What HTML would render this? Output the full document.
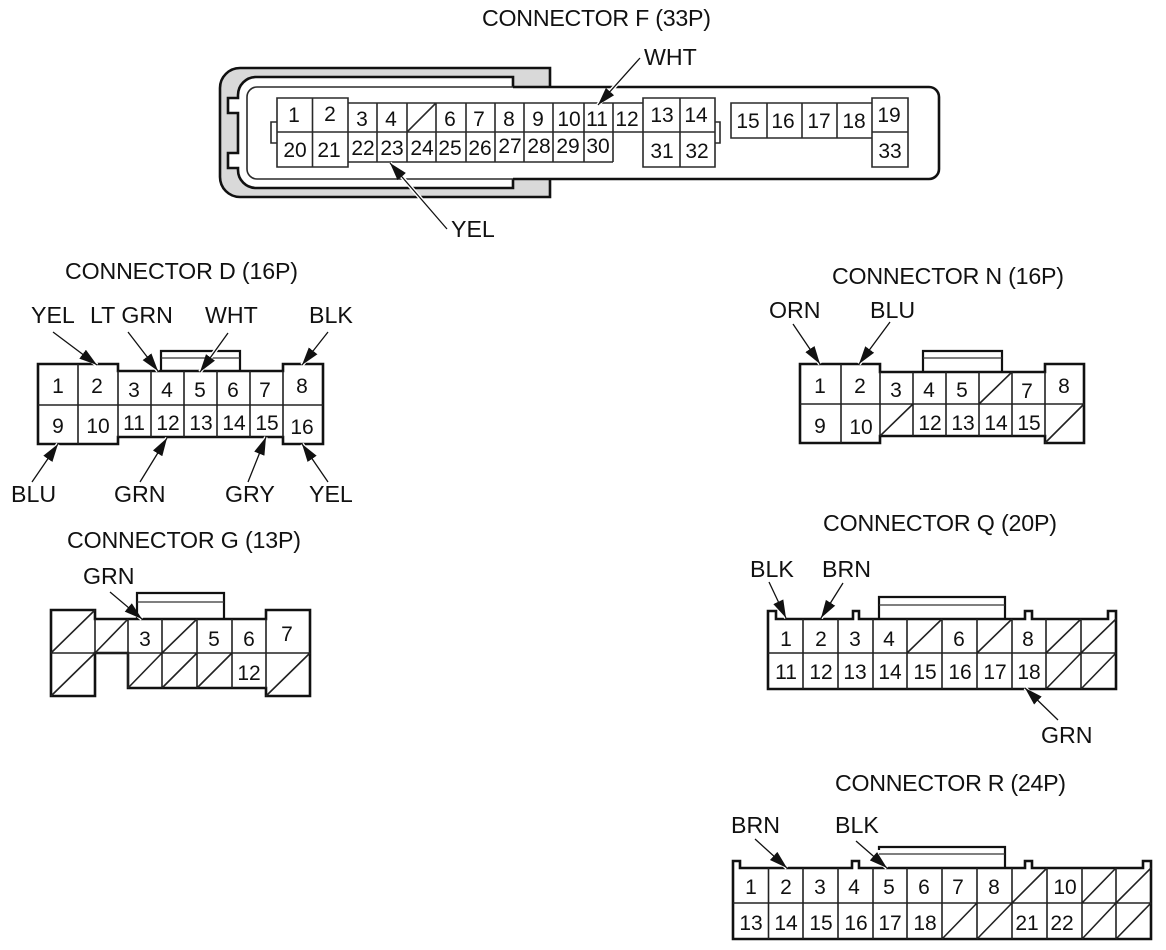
<!DOCTYPE html>
<html><head><meta charset="utf-8"><style>
html,body{margin:0;padding:0;background:#fff}
svg{display:block}
text{font-family:"Liberation Sans",sans-serif;fill:#111}
.l{font-size:23.2px}
.p{font-size:21px;text-anchor:middle}
.o{fill:none;stroke:#111;stroke-width:2.6}
.t{fill:none;stroke:#111;stroke-width:2.2}
.s{fill:none;stroke:#333;stroke-width:1.3}
.i{fill:none;stroke:#222;stroke-width:1.6}
.f{fill:none;stroke:#2a2a2a;stroke-width:1.6}
.h{stroke:#fff;stroke-width:4}
.a{stroke:#111;stroke-width:1.3;marker-end:url(#m)}
</style></head><body>
<svg width="1166" height="950" viewBox="0 0 1166 950" xmlns="http://www.w3.org/2000/svg">
<defs><marker id="m" markerUnits="userSpaceOnUse" markerWidth="20" markerHeight="12" refX="18" refY="6" orient="auto"><path d="M0,0.500L18,6L0,11.500Z" fill="#111"/></marker></defs>

<!-- CONNECTOR F -->
<text class="l" x="482" y="26" textLength="229">CONNECTOR F (33P)</text>
<path d="M550,68H240a20,20 0 0 0 -20,20V177a20,20 0 0 0 20,20H550Z" fill="#d9d9d9"/>
<path d="M513,77H256a18,18 0 0 0 -18,18V98H228V113H238V153H228V168H238V170a18,18 0 0 0 18,18H513V179H550V87H513Z" fill="#fff"/>
<path class="o" d="M550,87V68H240a20,20 0 0 0 -20,20V177a20,20 0 0 0 20,20H550V179"/>
<path class="o" d="M513,87V77H256a18,18 0 0 0 -18,18V98H228V113H238V153H228V168H238V170a18,18 0 0 0 18,18H513V179"/>
<rect x="247" y="87" width="692" height="92" rx="10" fill="#fff"/>
<path class="f" d="M513,87H257a10,10 0 0 0 -10,10V169a10,10 0 0 0 10,10H513"/>
<path class="o" d="M513,87H929a10,10 0 0 1 10,10V169a10,10 0 0 1 -10,10H513"/>
<path class="f" d="M277,98H348V167H277ZM312.500,98V167M277,132H348M348,103H643M348,162H613M377,103V162M407,103V162M436,103V162M466,103V162M495,103V162M524,103V162M553,103V162M584,103V162M613,103V162M348,132H643M643,103V132M407,132L436,103M643,98H715V167H643ZM680,98V167M643,132H715M271,122H277V143H271ZM715,122H720V143H715ZM731,103H872V138H731ZM767,103V138M802,103V138M837,103V138M872,98H908V167H872ZM872,132H908"/>
<text class="p" x="294" y="122">1</text><text class="p" x="330" y="121">2</text><text class="p" x="362" y="126">3</text><text class="p" x="391" y="126">4</text><text class="p" x="450" y="126">6</text><text class="p" x="479" y="126">7</text><text class="p" x="509" y="126">8</text><text class="p" x="538" y="126">9</text><text class="p" x="569" y="126">10</text><text class="p" x="597" y="126">11</text><text class="p" x="627" y="126">12</text><text class="p" x="662" y="122">13</text><text class="p" x="696" y="122">14</text>
<text class="p" x="748" y="128">15</text><text class="p" x="783" y="128">16</text><text class="p" x="819" y="128">17</text><text class="p" x="854" y="128">18</text><text class="p" x="889" y="122">19</text>
<text class="p" x="295" y="157">20</text><text class="p" x="329" y="157">21</text><text class="p" x="363" y="155">22</text><text class="p" x="392" y="155">23</text><text class="p" x="422" y="155">24</text><text class="p" x="450" y="155">25</text><text class="p" x="480" y="155">26</text><text class="p" x="510" y="153">27</text><text class="p" x="539" y="153">28</text><text class="p" x="568" y="153">29</text><text class="p" x="598" y="153">30</text><text class="p" x="662" y="158">31</text><text class="p" x="697" y="158">32</text><text class="p" x="890" y="158">33</text>
<text class="l" x="644" y="65">WHT</text><text class="l" x="451" y="237">YEL</text>
<line class="h" x1="640" y1="58" x2="598" y2="105"/><line class="a" x1="640" y1="58" x2="598" y2="105"/>
<line class="h" x1="447" y1="229" x2="390" y2="163"/><line class="a" x1="447" y1="229" x2="390" y2="163"/>

<!-- CONNECTOR D -->
<text class="l" x="65" y="279" textLength="233">CONNECTOR D (16P)</text>
<path class="t" d="M161,371V351H240V371"/><path class="s" d="M161,358H240"/>
<path class="o" d="M38,364H118V371H283V364H323V444H283V437H118V444H38Z"/>
<path class="i" d="M38,405H323M78,364V444M118,371V437M151,371V437M184,371V437M217,371V437M250,371V437M283,371V437"/>
<text class="p" x="58" y="393">1</text><text class="p" x="97" y="393">2</text><text class="p" x="134" y="397">3</text><text class="p" x="167" y="397">4</text><text class="p" x="200" y="397">5</text><text class="p" x="233" y="397">6</text><text class="p" x="265" y="397">7</text><text class="p" x="302" y="393">8</text>
<text class="p" x="58" y="433">9</text><text class="p" x="98" y="433">10</text><text class="p" x="134" y="430">11</text><text class="p" x="168" y="430">12</text><text class="p" x="201" y="430">13</text><text class="p" x="234" y="430">14</text><text class="p" x="267" y="430">15</text><text class="p" x="302" y="434">16</text>
<text class="l" x="31" y="323">YEL</text><text class="l" x="90" y="323">LT GRN</text><text class="l" x="205" y="323">WHT</text><text class="l" x="309" y="323">BLK</text>
<text class="l" x="11" y="502">BLU</text><text class="l" x="114" y="502">GRN</text><text class="l" x="225" y="502">GRY</text><text class="l" x="309" y="502">YEL</text>
<line class="h" x1="53" y1="332" x2="97" y2="365"/><line class="a" x1="53" y1="332" x2="97" y2="365"/>
<line class="h" x1="128" y1="332" x2="158" y2="371"/><line class="a" x1="128" y1="332" x2="158" y2="371"/>
<line class="h" x1="228" y1="333" x2="200" y2="372"/><line class="a" x1="228" y1="333" x2="200" y2="372"/>
<line class="h" x1="328" y1="332" x2="302" y2="365"/><line class="a" x1="328" y1="332" x2="302" y2="365"/>
<line class="h" x1="32" y1="482" x2="58" y2="444"/><line class="a" x1="32" y1="482" x2="58" y2="444"/>
<line class="h" x1="140" y1="482" x2="167" y2="438"/><line class="a" x1="140" y1="482" x2="167" y2="438"/>
<line class="h" x1="248" y1="482" x2="266" y2="437"/><line class="a" x1="248" y1="482" x2="266" y2="437"/>
<line class="h" x1="328" y1="482" x2="302" y2="444"/><line class="a" x1="328" y1="482" x2="302" y2="444"/>

<!-- CONNECTOR G -->
<text class="l" x="67" y="548" textLength="234">CONNECTOR G (13P)</text>
<path class="t" d="M137,619V593H224V619"/><path class="s" d="M137,602H224"/>
<path class="o" d="M51,610H95V619H266V610H310V696H266V688H128V653H95V696H51Z"/>
<path class="i" d="M51,653H310M95,619V653M128,619V688M162,619V688M197,619V688M232,619V688M266,619V688M51,653L95,610M51,696L95,653M95,653L128,619M162,653L197,619M128,688L162,653M162,688L197,653M197,688L232,653M266,696L310,653"/>
<text class="p" x="145" y="646">3</text><text class="p" x="214" y="646">5</text><text class="p" x="249" y="646">6</text><text class="p" x="287" y="641">7</text><text class="p" x="249" y="680">12</text>
<text class="l" x="83" y="584">GRN</text>
<line class="h" x1="110" y1="592" x2="142" y2="619"/><line class="a" x1="110" y1="592" x2="142" y2="619"/>

<!-- CONNECTOR N -->
<text class="l" x="832" y="284" textLength="232">CONNECTOR N (16P)</text>
<path class="t" d="M923,372V351H1002V372"/><path class="s" d="M923,358H1002"/>
<path class="o" d="M800,364H880V372H1045V364H1084V443H1045V436H880V443H800Z"/>
<path class="i" d="M800,404H1084M841,364V443M880,372V436M913,372V436M946,372V436M979,372V436M1012,372V436M1045,372V436M979,404L1012,372M880,436L913,404M1045,443L1084,404"/>
<text class="p" x="820" y="393">1</text><text class="p" x="860" y="393">2</text><text class="p" x="896" y="397">3</text><text class="p" x="929" y="397">4</text><text class="p" x="962" y="397">5</text><text class="p" x="1027" y="398">7</text><text class="p" x="1064" y="393">8</text>
<text class="p" x="820" y="433">9</text><text class="p" x="861" y="434">10</text><text class="p" x="930" y="430">12</text><text class="p" x="963" y="430">13</text><text class="p" x="996" y="430">14</text><text class="p" x="1029" y="430">15</text>
<text class="l" x="769" y="318">ORN</text><text class="l" x="870" y="318">BLU</text>
<line class="h" x1="793" y1="324" x2="820" y2="364"/><line class="a" x1="793" y1="324" x2="820" y2="364"/>
<line class="h" x1="890" y1="322" x2="859" y2="364"/><line class="a" x1="890" y1="322" x2="859" y2="364"/>

<!-- CONNECTOR Q -->
<text class="l" x="823" y="531" textLength="234">CONNECTOR Q (20P)</text>
<path class="t" d="M879,619V597H1005V619"/><path class="s" d="M879,605H1005"/>
<path class="o" d="M768,611H776V619H853V611H859V619H1025V611H1032V619H1108V611H1116V689H768Z"/>
<path class="i" d="M768,653H1116M803,619V689M838,619V689M873,619V689M907,619V689M942,619V689M977,619V689M1012,619V689M1046,619V689M1081,619V689M907,653L942,619M977,653L1012,619M1046,653L1081,619M1081,653L1116,619M1046,689L1081,653M1081,689L1116,653"/>
<text class="p" x="786" y="646">1</text><text class="p" x="821" y="646">2</text><text class="p" x="855" y="646">3</text><text class="p" x="889" y="646">4</text><text class="p" x="959" y="646">6</text><text class="p" x="1028" y="646">8</text>
<text class="p" x="786" y="679">11</text><text class="p" x="821" y="679">12</text><text class="p" x="855" y="679">13</text><text class="p" x="890" y="679">14</text><text class="p" x="925" y="679">15</text><text class="p" x="960" y="679">16</text><text class="p" x="995" y="679">17</text><text class="p" x="1029" y="679">18</text>
<text class="l" x="750" y="577">BLK</text><text class="l" x="822" y="577">BRN</text><text class="l" x="1041" y="743">GRN</text>
<line class="h" x1="769" y1="582" x2="786" y2="618"/><line class="a" x1="769" y1="582" x2="786" y2="618"/>
<line class="h" x1="843" y1="583" x2="821" y2="618"/><line class="a" x1="843" y1="583" x2="821" y2="618"/>
<line class="h" x1="1058" y1="720" x2="1025" y2="688"/><line class="a" x1="1058" y1="720" x2="1025" y2="688"/>

<!-- CONNECTOR R -->
<text class="l" x="835" y="791" textLength="231">CONNECTOR R (24P)</text>
<path class="t" d="M879,850V847H1005V868"/><path class="s" d="M879,854H1005"/>
<path class="o" d="M733,861H740V868H852V861H859V868H1025V861H1032V868H1143V861H1151V939H733Z"/>
<path class="i" d="M733,903H1151M768.500,868V939M803,868V939M838,868V939M873,868V939M907,868V939M942,868V939M977,868V939M1012,868V939M1047,868V939M1082,868V939M1116,868V939M1012,903L1047,868M1082,903L1116,868M1116,903L1151,868M942,939L977,903M977,939L1012,903M1082,939L1116,903M1116,939L1151,903"/>
<text class="p" x="751" y="894">1</text><text class="p" x="786" y="894">2</text><text class="p" x="820" y="894">3</text><text class="p" x="854" y="894">4</text><text class="p" x="889" y="894">5</text><text class="p" x="924" y="894">6</text><text class="p" x="958" y="894">7</text><text class="p" x="994" y="894">8</text><text class="p" x="1065" y="894">10</text>
<text class="p" x="751" y="930">13</text><text class="p" x="786" y="930">14</text><text class="p" x="821" y="930">15</text><text class="p" x="856" y="930">16</text><text class="p" x="890" y="930">17</text><text class="p" x="925" y="930">18</text><text class="p" x="1027" y="930">21</text><text class="p" x="1062" y="930">22</text>
<text class="l" x="731" y="833">BRN</text><text class="l" x="835" y="833">BLK</text>
<line class="h" x1="755" y1="839" x2="787" y2="868"/><line class="a" x1="755" y1="839" x2="787" y2="868"/>
<line class="h" x1="856" y1="841" x2="887" y2="868"/><line class="a" x1="856" y1="841" x2="887" y2="868"/>
</svg>
</body></html>
